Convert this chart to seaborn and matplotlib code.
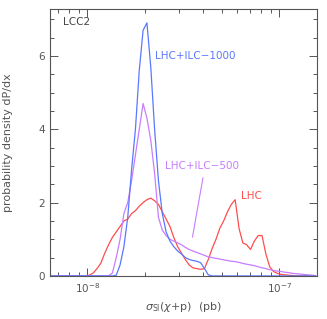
import numpy as np
import pandas as pd
import matplotlib
matplotlib.use("Agg")
import matplotlib.pyplot as plt
import seaborn as sns

# log10 bin range for sigma_SI (pb), 70 bins of 0.02 decade
log_lo, log_hi, n_bins = -8.2, -6.8, 70

# probability density per bin (bins 0..69)
red_lhc = [0.0] * 10 + [
    0.02, 0.08, 0.2, 0.35, 0.62, 0.85, 1.05, 1.2, 1.35, 1.5,
    1.55, 1.7, 1.78, 1.9, 2.0, 2.08, 2.12, 2.05, 1.95, 1.75,
    1.55, 1.35, 1.05, 0.8, 0.62, 0.45, 0.3, 0.22, 0.2, 0.18,
    0.2, 0.45, 0.75, 1.0, 1.3, 1.5, 1.75, 1.95, 2.08, 1.3,
    0.9, 0.85, 0.72, 0.95, 1.1, 1.1, 0.6, 0.25, 0.12, 0.07,
    0.04, 0.03, 0.02, 0.01, 0.0, 0.0, 0.0, 0.0, 0.0, 0.0]
blue_1000 = [0.0] * 17 + [
    0.02, 0.3, 0.8, 1.6, 2.9, 4.0, 5.6, 6.7, 6.9, 5.7,
    4.0, 2.6, 1.7, 1.2, 0.95, 0.8, 0.68, 0.6, 0.5, 0.45,
    0.42, 0.4, 0.36, 0.2, 0.03] + [0.0] * 28
mag_500 = [0.0] * 16 + [
    0.08, 0.5, 1.0, 1.7, 2.0, 2.6, 3.3, 4.0, 4.7, 4.3,
    3.7, 2.8, 1.6, 1.25, 1.1, 1.0, 0.95, 0.9, 0.85, 0.78,
    0.72, 0.68, 0.64, 0.6, 0.56, 0.52, 0.5, 0.48, 0.46, 0.44,
    0.42, 0.4, 0.39, 0.37, 0.34, 0.32, 0.3, 0.28, 0.25, 0.22,
    0.2, 0.17, 0.15, 0.13, 0.12, 0.1, 0.09, 0.07, 0.06, 0.05,
    0.04, 0.03, 0.02, 0.01]

series = {"LHC": red_lhc, "LHC+ILC-500": mag_500, "LHC+ILC-1000": blue_1000}
colors = {"LHC": "#ff4d4d", "LHC+ILC-500": "#c77dff", "LHC+ILC-1000": "#5a78ff"}

step = (log_hi - log_lo) / n_bins
centers = 10 ** (log_lo + step * (np.arange(n_bins) + 0.5))
rows = []
for name, vals in series.items():
    for c, v in zip(centers, vals):
        rows.append((name, c, v))
df = pd.DataFrame(rows, columns=["model", "sigma", "dens"])

sns.set_style("ticks")
plt.rcParams["font.family"] = ["DejaVu Sans"]
grey = "#555555"

fig = plt.figure(figsize=(3.27, 3.19), dpi=100)
ax = fig.add_axes([0.153, 0.135, 0.816, 0.837])
sns.lineplot(data=df, x="sigma", y="dens", hue="model", palette=colors,
             estimator=None, sort=False, linewidth=0.9, legend=False, ax=ax)

ax.set_xscale("log")
ax.set_xlim(6.38e-9, 1.57e-7)
ax.set_ylim(0, 7.28)
ax.set_yticks([0, 2, 4, 6])
ax.set_yticks(np.arange(0, 7.5, 0.5), minor=True)
ax.set_xticks([1e-8, 1e-7])
ax.set_xticklabels([r"$10^{-8}$", r"$10^{-7}$"])
ax.tick_params(which="both", direction="in", top=True, right=True,
               colors=grey, labelsize=7.5, width=0.7)
ax.tick_params(which="major", length=6)
ax.tick_params(which="minor", length=3)
for s in ax.spines.values():
    s.set_color(grey)
    s.set_linewidth(0.8)

ax.set_xlabel(r"$\sigma_{\rm SI}(\chi$+p)  (pb)", color=grey, fontsize=8)
ax.set_ylabel("probability density dP/dx", color=grey, fontsize=8)
ax.yaxis.set_label_coords(-0.14, 0.5)

ax.text(0.049, 0.951, "LCC2", transform=ax.transAxes, color="#444444",
        fontsize=7.5, va="center", ha="left")
ax.text(0.393, 0.824, "LHC+ILC\u22121000", transform=ax.transAxes,
        color=colors["LHC+ILC-1000"], fontsize=7.5, va="center", ha="left")
ax.text(0.431, 0.412, "LHC+ILC\u2212500", transform=ax.transAxes,
        color=colors["LHC+ILC-500"], fontsize=7.5, va="center", ha="left")
ax.text(0.715, 0.30, "LHC", transform=ax.transAxes,
        color=colors["LHC"], fontsize=7.5, va="center", ha="left")
ax.annotate("", xy=(0.532, 0.135), xytext=(0.575, 0.378),
            xycoords="axes fraction", textcoords="axes fraction",
            arrowprops=dict(arrowstyle="-", color=colors["LHC+ILC-500"], lw=0.8))

fig.savefig("out.png", dpi=100)
